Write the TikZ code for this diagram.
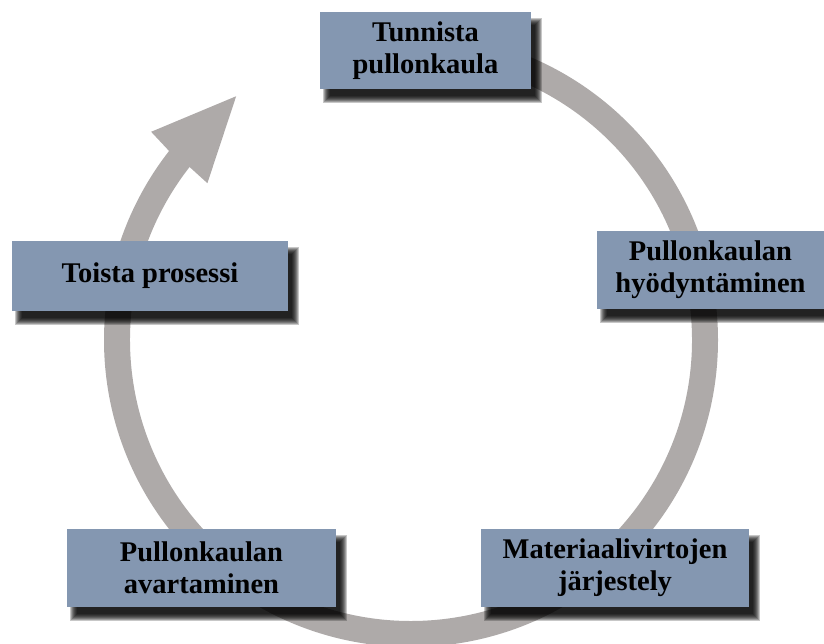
\documentclass[tikz,border=0pt]{standalone}
\usepackage{fontspec}
\setmainfont{Liberation Serif}
\pgfdeclarelayer{back}
\pgfsetlayers{back,main}
\definecolor{ringgray}{RGB}{174,170,169}
\definecolor{boxblue}{RGB}{132,151,177}
\tikzset{
  stage/.style={fill=boxblue, inner sep=0pt, align=center, text=black,
    font=\bfseries\fontsize{28.5}{32}\selectfont},
  shadowlayer/.style={fill=black, opacity=0.22},
}
% soft drop shadow under a named box: stacked, growing translucent rectangles
\newcommand\castshadow[1]{%
  \foreach \s in {-3,...,4}{%
    \fill[shadowlayer] ([shift={(7-\s,-10-\s)}]#1.south west)
      rectangle ([shift={(7+\s,-10+\s)}]#1.north east);
  }}
\begin{document}
\begin{tikzpicture}[x=1pt,y=1pt]
  \useasboundingbox (0,0) rectangle (824,644);
  \coordinate (C) at (411,304);

  % process stages
  \node[stage, minimum width=211, minimum height=77] (s1) at (425.5,593.5) {Tunnista\\pullonkaula};
  \node[stage, minimum width=227, minimum height=78] (s2) at (710.5,374) {Pullonkaulan\\hyödyntäminen};
  \node[stage, minimum width=268, minimum height=78] (s3) at (615,76) {Materiaalivirtojen\\järjestely};
  \node[stage, minimum width=269, minimum height=78] (s4) at (201.5,76) {Pullonkaulan\\avartaminen};
  \node[stage, minimum width=276, minimum height=70] (s5) at (150,368) {Toista prosessi};

  \begin{pgfonlayer}{back}
    % circular arrow running clockwise round the stages
    \fill[ringgray]
      ([shift={(90:307)}]C) arc[start angle=90, end angle=-218, radius=307]
      -- ([shift={(-218.7:333)}]C)
      -- ([shift={(-234.35:300)}]C)
      -- ([shift={(-217.6:257)}]C)
      -- ([shift={(-218:281)}]C)
      arc[start angle=-218, end angle=90, radius=281] -- cycle;
    \castshadow{s1}
    \castshadow{s2}
    \castshadow{s3}
    \castshadow{s4}
    \castshadow{s5}
  \end{pgfonlayer}
\end{tikzpicture}
\end{document}
